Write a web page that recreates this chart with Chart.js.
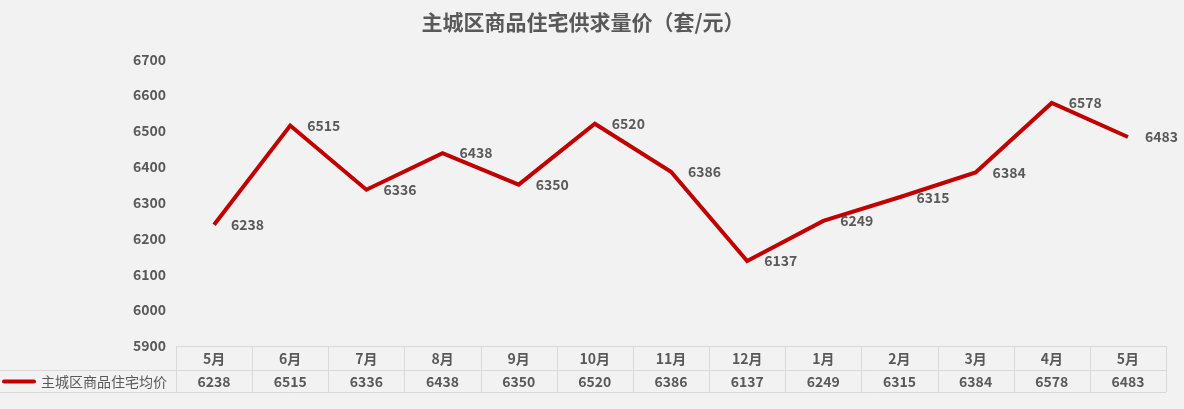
<!DOCTYPE html>
<html>
<head>
<meta charset="utf-8">
<script src="https://cdn.jsdelivr.net/npm/chart.js@4"></script>
<style>
  html, body { margin: 0; padding: 0; background: #f2f2f2; }
  canvas { display: block; }
</style>
</head>
<body>
<canvas id="c" width="1184" height="409"></canvas>
<script>
const titleText = '主城区商品住宅供求量价（套/元）';
const seriesName = '主城区商品住宅均价';
const categories = ['5月','6月','7月','8月','9月','10月','11月','12月','1月','2月','3月','4月','5月'];
const prices = [6238, 6515, 6336, 6438, 6350, 6520, 6386, 6137, 6249, 6315, 6384, 6578, 6483];
const yMin = 5900, yMax = 6700, yStep = 100;

const FONT = "'Microsoft YaHei', 'Noto Sans CJK SC', sans-serif";
const TEXT = '#595959';
const LINE = '#c00000';
const GRID = '#d9d9d9';

const bgPlugin = {
  id: 'bg',
  beforeDraw(chart) {
    const ctx = chart.ctx;
    ctx.save();
    ctx.fillStyle = '#f2f2f2';
    ctx.fillRect(0, 0, chart.width, chart.height);
    ctx.restore();
  }
};

const labelPlugin = {
  id: 'pointLabels',
  afterDatasetsDraw(chart) {
    const ctx = chart.ctx;
    const meta = chart.getDatasetMeta(0);
    ctx.save();
    ctx.font = 'bold 14px ' + FONT;
    ctx.fillStyle = TEXT;
    ctx.textAlign = 'left';
    ctx.textBaseline = 'middle';
    meta.data.forEach((pt, i) => {
      ctx.fillText(String(chart.data.datasets[0].data[i]), pt.x + 17, pt.y);
    });
    ctx.restore();
  }
};

const tablePlugin = {
  id: 'dataTable',
  afterDraw(chart) {
    const ctx = chart.ctx;
    const xs = chart.scales.x;
    const left = chart.chartArea.left, right = chart.chartArea.right;
    const top = chart.chartArea.bottom;
    const mid = top + 24, bot = top + 46;
    const n = chart.data.labels.length;
    const colW = (right - left) / n;
    ctx.save();
    ctx.strokeStyle = GRID;
    ctx.lineWidth = 1;
    ctx.beginPath();
    ctx.moveTo(left, top + 0.5); ctx.lineTo(right, top + 0.5);
    ctx.moveTo(0, mid + 0.5); ctx.lineTo(right, mid + 0.5);
    ctx.moveTo(0, bot + 0.5); ctx.lineTo(right, bot + 0.5);
    for (let i = 0; i <= n; i++) {
      const x = Math.round(left + i * colW) + 0.5;
      ctx.moveTo(x, top); ctx.lineTo(x, bot);
    }
    ctx.stroke();

    ctx.font = 'bold 14px ' + FONT;
    ctx.fillStyle = TEXT;
    ctx.textAlign = 'center';
    ctx.textBaseline = 'middle';
    chart.data.labels.forEach((lab, i) => {
      const cx = xs.getPixelForValue(i);
      ctx.fillText(lab, cx, (top + mid) / 2 + 1);
      ctx.fillText(String(chart.data.datasets[0].data[i]), cx, (mid + bot) / 2 + 1);
    });

    // legend key
    ctx.strokeStyle = LINE;
    ctx.lineWidth = 4;
    ctx.lineCap = 'round';
    ctx.beginPath();
    ctx.moveTo(4, (mid + bot) / 2 + 0.5);
    ctx.lineTo(34, (mid + bot) / 2 + 0.5);
    ctx.stroke();
    ctx.font = '14px ' + FONT;
    ctx.textAlign = 'left';
    ctx.fillText(chart.data.datasets[0].label, 41, (mid + bot) / 2 + 1);
    ctx.restore();
  }
};

new Chart(document.getElementById('c'), {
  type: 'line',
  data: {
    labels: categories,
    datasets: [{
      label: seriesName,
      data: prices,
      borderColor: LINE,
      backgroundColor: LINE,
      borderWidth: 4,
      pointRadius: 0,
      tension: 0,
      fill: false
    }]
  },
  options: {
    responsive: false,
    animation: false,
    layout: { padding: { left: 0, right: 18, top: 0, bottom: 63 } },
    plugins: {
      legend: { display: false },
      tooltip: { enabled: false },
      title: {
        display: true,
        text: titleText,
        color: TEXT,
        font: { family: FONT, size: 21, weight: 'bold' },
        padding: { top: 9, bottom: 25 }
      }
    },
    scales: {
      x: {
        type: 'category',
        display: false,
        offset: true
      },
      y: {
        min: yMin,
        max: yMax,
        ticks: {
          stepSize: yStep,
          color: TEXT,
          font: { family: FONT, size: 14, weight: 'bold' },
          padding: 10,
          callback: (v) => String(v)
        },
        grid: { display: false, drawTicks: false },
        border: { display: false },
        afterFit(scale) { scale.width = 176; }
      }
    }
  },
  plugins: [bgPlugin, labelPlugin, tablePlugin]
});
</script>
</body>
</html>
